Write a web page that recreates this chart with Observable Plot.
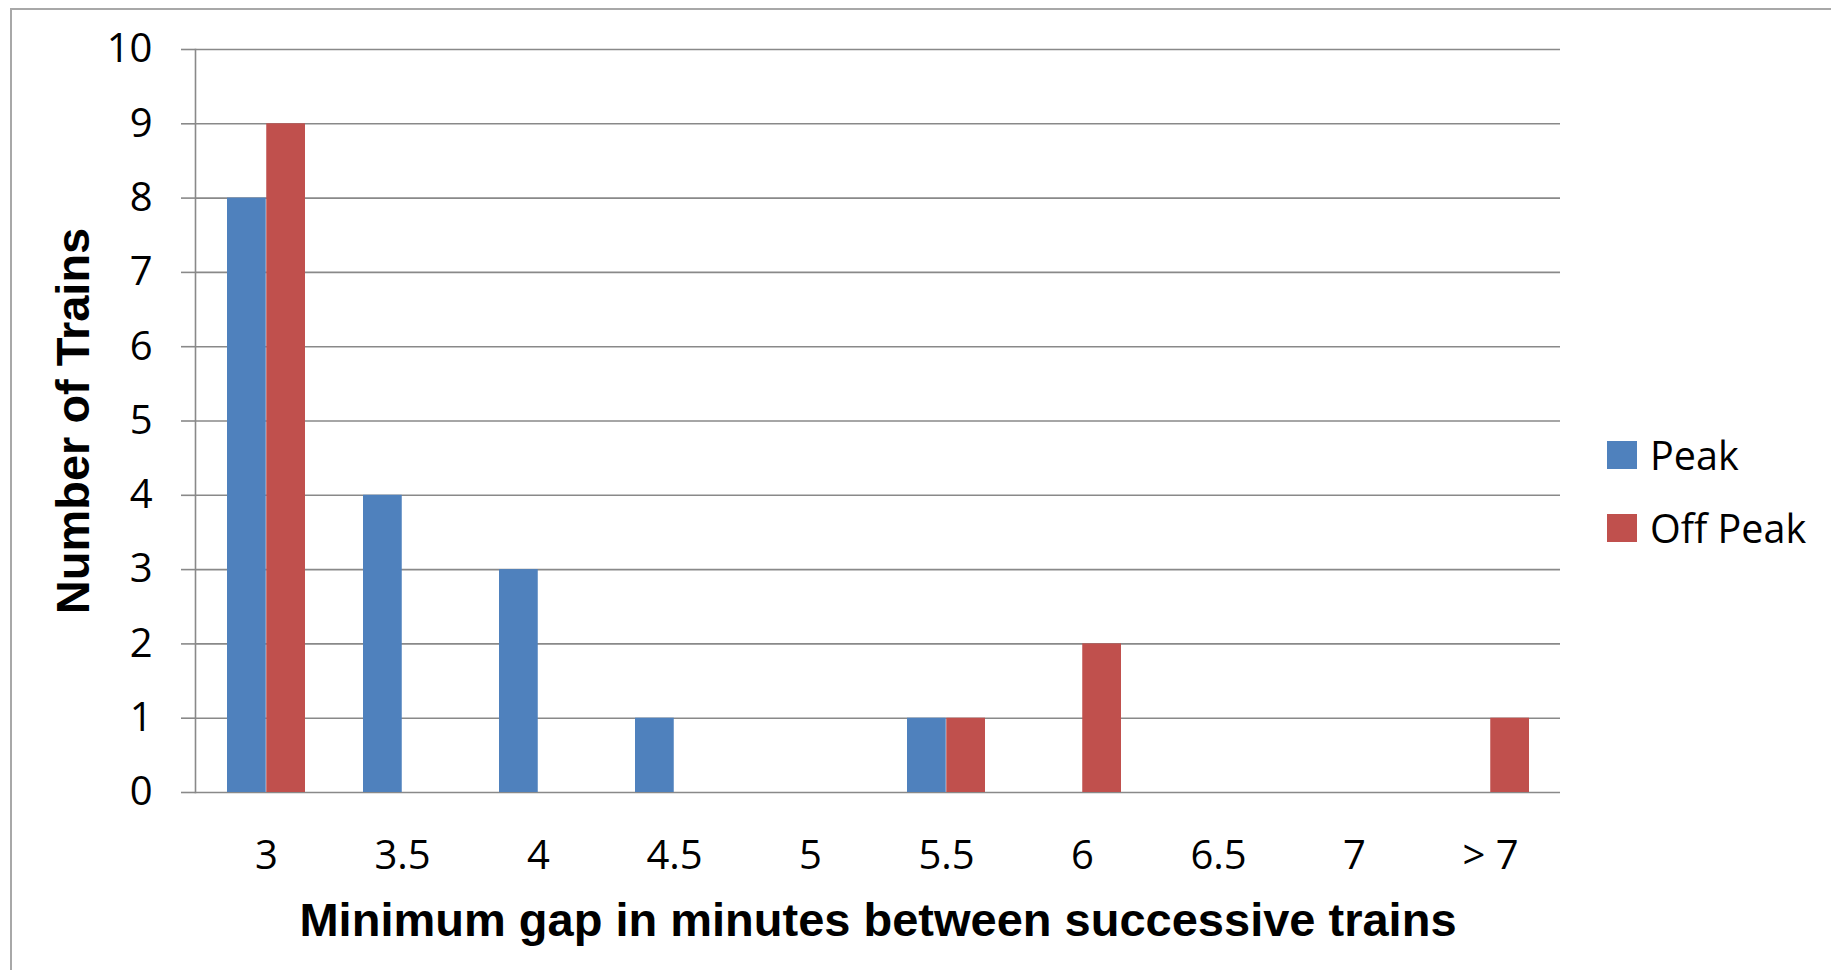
<!DOCTYPE html>
<html>
<head>
<meta charset="utf-8">
<script src="https://cdn.jsdelivr.net/npm/d3@7"></script>
<script src="https://cdn.jsdelivr.net/npm/@observablehq/plot@0.6"></script>
<style>
  html, body { margin: 0; padding: 0; background: #fff; }
  #wrap { position: relative; width: 1831px; height: 970px; overflow: hidden; background: #fff; }
  #border { position: absolute; left: 10px; top: 8px; width: 1900px; height: 1000px;
            border-left: 2px solid #a8a8a8; border-top: 2px solid #a8a8a8; }
  #chart { position: absolute; left: 0; top: 0; }
  .legend-swatch { position: absolute; width: 30px; height: 28px; }
  .legend-label { position: absolute; font-family: "Open Sans", sans-serif; font-size: 39.5px;
                  line-height: 40px; color: #000; white-space: nowrap; }
</style>
</head>
<body>
<div id="wrap">
  <div id="border"></div>
  <div id="chart"></div>
  <div id="legend"></div>
</div>
<script>
// ---- Data ----
const categories = ["3", "3.5", "4", "4.5", "5", "5.5", "6", "6.5", "7", "> 7"];
const peak = [8, 4, 3, 1, 0, 1, 0, 0, 0, 0];
const offPeak = [9, 0, 0, 0, 0, 1, 2, 0, 0, 1];
const yTicks = [0, 1, 2, 3, 4, 5, 6, 7, 8, 9, 10];
const seriesNames = ["Peak", "Off Peak"];
const seriesColors = ["#4F81BD", "#C0504D"];
const xTitle = "Minimum gap in minutes between successive trains";
const yTitle = "Number of Trains";

const peakData = categories.map((c, i) => ({category: c, value: peak[i], series: seriesNames[0]}));
const offPeakData = categories.map((c, i) => ({category: c, value: offPeak[i], series: seriesNames[1]}));

const gridColor = "#898989";
const titleFont = "'Liberation Sans', Arial, sans-serif";

const chart = Plot.plot({
  width: 1831,
  height: 970,
  marginLeft: 195,
  marginRight: 271,
  marginTop: 49,
  marginBottom: 178,
  style: {fontFamily: "'Open Sans', sans-serif", fontSize: "40px", color: "#000", background: "transparent", overflow: "visible"},
  x: {domain: categories, padding: 0, label: null, tickSize: 0, tickPadding: 48},
  y: {domain: [0, 10], ticks: yTicks, label: null, tickSize: 14, tickPadding: 29},
  marks: [
    Plot.ruleY(yTicks, {stroke: gridColor, strokeWidth: 1.6}),
    Plot.barY(peakData, {x: "category", y: "value", fill: seriesColors[0], insetLeft: 29, insetRight: 68.25}),
    Plot.barY(offPeakData, {x: "category", y: "value", fill: seriesColors[1], insetLeft: 68.25, insetRight: 29}),
    Plot.frame({anchor: "left", stroke: gridColor, strokeWidth: 1.6}),
    Plot.text([xTitle], {text: d => d, frameAnchor: "bottom", lineAnchor: "bottom", textAnchor: "middle", dy: 143,
      fontFamily: titleFont, fontWeight: "bold", fontSize: 47, fill: "#000"}),
    Plot.text([yTitle], {text: d => d, frameAnchor: "left", lineAnchor: "bottom", textAnchor: "middle", rotate: -90, dx: -107,
      fontFamily: titleFont, fontWeight: "bold", fontSize: 47, fill: "#000"})
  ]
});

// y tick marks in gray
d3.select(chart).selectAll('g[aria-label="y-axis tick"]').attr("stroke", gridColor).attr("stroke-width", 1.6);
d3.select(chart).selectAll('g[aria-label="y-axis"] .tick line').attr("stroke", gridColor);

document.getElementById("chart").appendChild(chart);

// ---- Legend ----
const legend = document.getElementById("legend");
const rowTops = [441, 514];
seriesNames.forEach((name, i) => {
  const sw = document.createElement("div");
  sw.className = "legend-swatch";
  sw.style.left = "1607px";
  sw.style.top = rowTops[i] + "px";
  sw.style.background = seriesColors[i];
  legend.appendChild(sw);
  const lab = document.createElement("div");
  lab.className = "legend-label";
  lab.style.left = "1650px";
  lab.style.top = (rowTops[i] - 6) + "px";
  lab.textContent = name;
  legend.appendChild(lab);
});
</script>
</body>
</html>
